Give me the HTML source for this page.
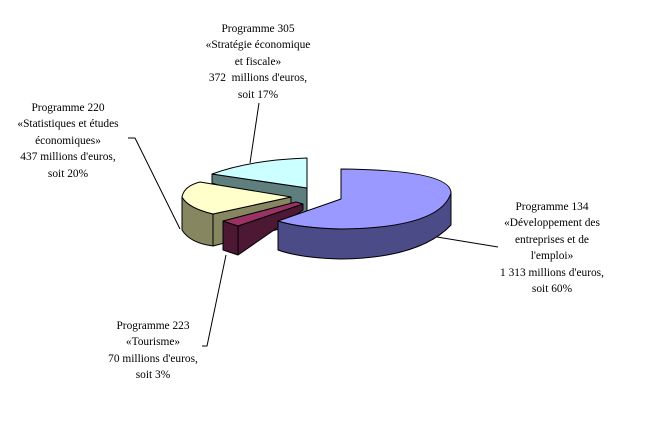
<!DOCTYPE html>
<html><head><meta charset="utf-8"><style>
html,body{margin:0;padding:0;background:#fff;}
body{width:647px;height:423px;position:relative;overflow:hidden;font-family:"Liberation Serif",serif;font-size:11.4px;color:#000;}
.t{position:absolute;text-align:center;line-height:16.4px;white-space:nowrap;transform:translateX(-50%);}
svg{position:absolute;left:0;top:0;}
</style></head><body>
<svg width="647" height="423" viewBox="0 0 647 423">
<g stroke="#000" stroke-width="1" stroke-linejoin="round">
<!-- leaders -->
<line x1="259" y1="103" x2="250" y2="163" fill="none"/>
<polyline points="128,138 135,138 180,229" fill="none"/>
<polyline points="226,255 207,346 202,346" fill="none"/>
<polyline points="437,237 498,247" fill="none"/>
<!-- cyan slice -->
<path d="M212,183 L307,217 L307,188 L212,174 Z" fill="#5f7f7f"/>
<path d="M307,188 L307,158 Q250,160 212,174 Z" fill="#ccffff"/>
<!-- yellow slice -->
<path d="M213,214 L291,197 L291,226 L213,246 Z" fill="#868661"/>
<path d="M182,197 L182,230 Q190,243 213,246 L213,214 Q188,208 182,197 Z" fill="#868661"/>
<path d="M291,197 L200,182 Q184,186 182,197 Q188,208 213,214 Z" fill="#ffffcc"/>
<!-- maroon slice -->
<path d="M223,221 L238,226 L303,204 L303,210 L238,255 L223,250 Z" fill="#4d1833"/>
<path d="M238,226 L238,255 M223,221 L238,226 L303,204 L296,202 Z" fill="#993366"/>
<!-- blue slice -->
<path d="M278,221 L278,250 Q300,258 341,259 Q420,258 451,225 L451,193 Q430,225 341,229 Q300,228 278,221 Z" fill="#4b4b87"/>
<path d="M341,199 L341,169 Q451,170 451,193 Q440,228 341,229 Q300,228 278,221 Z" fill="#9999ff"/>
</g>
</svg>
<div class="t" style="left:258px;top:21px">Programme 305<br>«Stratégie économique<br>et fiscale»<br>372&nbsp; millions d'euros,<br>soit 17%</div>
<div class="t" style="left:68px;top:100px">Programme 220<br>«Statistiques et études<br>économiques»<br>437 millions d'euros,<br>soit 20%</div>
<div class="t" style="left:552px;top:199px">Programme 134<br>«Développement des<br>entreprises et de<br>l'emploi»<br>1 313 millions d'euros,<br>soit 60%</div>
<div class="t" style="left:153px;top:318px">Programme 223<br>«Tourisme»<br>70 millions d'euros,<br>soit 3%</div>
</body></html>
